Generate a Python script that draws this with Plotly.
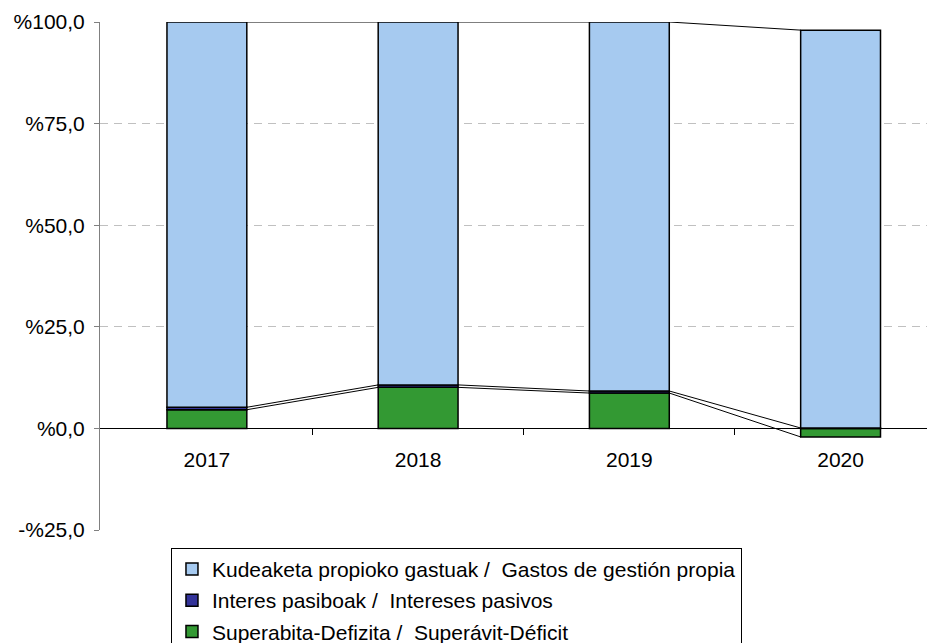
import numpy as np
import plotly.graph_objects as go

years = ["2017", "2018", "2019", "2020"]
superavit = [4.6, 10.1, 8.7, -2.1]
intereses = [0.6, 0.6, 0.5, 0.1]
gastos = [94.8, 89.3, 90.8, 97.9]

names = [
    "Superabita-Defizita /  Superávit-Déficit",
    "Interes pasiboak /  Intereses pasivos",
    "Kudeaketa propioko gastuak /  Gastos de gestión propia",
]
colors = ["#339933", "#333399", "#A6CAF0"]
ranks = [3, 2, 1]
series = [superavit, intereses, gastos]

ytick_vals = [-25, 0, 25, 50, 75, 100]
ytick_text = ["-%25,0", "%0,0", "%25,0", "%50,0", "%75,0", "%100,0"]

FONT = "Arial, Liberation Sans, sans-serif"
x = np.arange(len(years))
bw = 0.378

fig = go.Figure()
for i, (vals, name, col, rk) in enumerate(zip(series, names, colors, ranks)):
    fig.add_trace(go.Bar(
        x=x, y=vals, name=name, width=bw,
        marker=dict(color=col, line=dict(color="black", width=1.5)),
        legendgroup=f"g{i}", legendrank=rk,
    ))

# series lines (Excel style) connecting segment ends between bars
pos_base = np.zeros(len(years))
neg_base = np.zeros(len(years))
ends_all = []
for vals in series:
    v = np.array(vals, dtype=float)
    ends = np.where(v >= 0, pos_base + v, neg_base + v)
    pos_base = np.where(v >= 0, pos_base + v, pos_base)
    neg_base = np.where(v < 0, neg_base + v, neg_base)
    ends_all.append(ends)

for ends in ends_all:
    lx, ly = [], []
    for k in range(len(years) - 1):
        lx += [x[k] + bw / 2, x[k + 1] - bw / 2, None]
        ly += [ends[k], ends[k + 1], None]
    fig.add_trace(go.Scatter(x=lx, y=ly, mode="lines", showlegend=False,
                             line=dict(color="black", width=1), hoverinfo="skip"))

fig.update_layout(
    width=935, height=643,
    margin=dict(l=92, r=8, t=14, b=121, autoexpand=False),
    barmode="relative",
    plot_bgcolor="white", paper_bgcolor="white",
    font=dict(family=FONT, size=21, color="black"),
    showlegend=True,
    legend=dict(
        x=0.085, xanchor="left", y=-0.035, yanchor="top",
        bordercolor="black", borderwidth=1, bgcolor="white",
        traceorder="grouped", tracegroupgap=1,
        font=dict(family=FONT, size=21, color="black"),
    ),
    xaxis=dict(
        range=[-0.506, 3.447],
        tickmode="array", tickvals=list(x), ticktext=years,
        ticks="", ticklabelstandoff=12,
        showgrid=False, zeroline=False,
        showline=True, linecolor="black", linewidth=1,
        anchor="free", position=0.2,
        minor=dict(ticks="outside", tickmode="array", tickvals=[0.5, 1.5, 2.5],
                   ticklen=6, tickcolor="black", tickwidth=1, showgrid=False),
    ),
    yaxis=dict(
        range=[-25, 100],
        tickmode="array", tickvals=ytick_vals, ticktext=ytick_text,
        ticks="outside", ticklen=5, tickcolor="#808080",
        showline=True, linecolor="#808080", linewidth=1,
        showgrid=True, gridcolor="#c0c0c0", griddash="8px,6px", gridwidth=1,
        zeroline=False, ticklabelstandoff=5,
    ),
)

fig.write_html("out.html")
